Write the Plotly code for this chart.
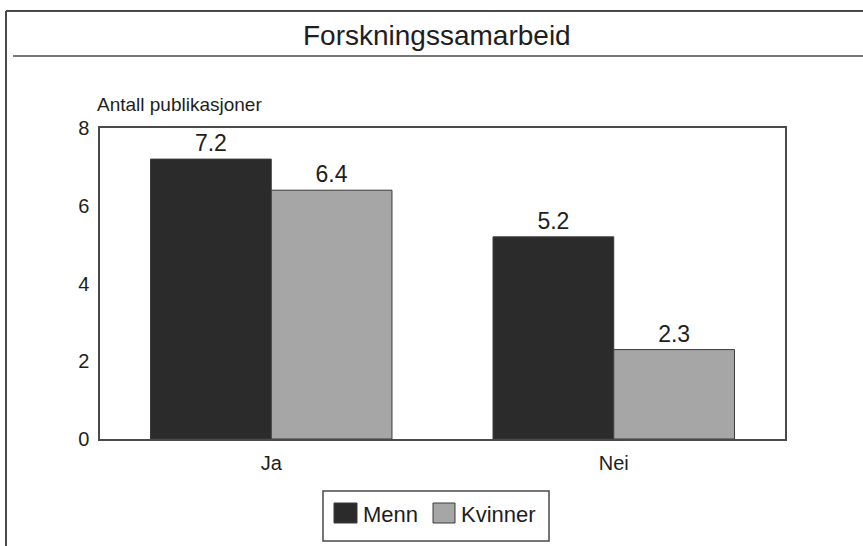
import plotly.graph_objects as go

# Data
categories = ["Ja", "Nei"]
menn = [7.2, 5.2]
kvinner = [6.4, 2.3]
series_names = ["Menn", "Kvinner"]
y_ticks = [0, 2, 4, 6, 8]

title_text = "Forskningssamarbeid"
y_title = "Antall publikasjoner"

# Styling
FONT = "Liberation Sans, Arial, Helvetica, sans-serif"
INK = "#1e1e1e"
LINE = "#4a4a4a"
COL_MENN = "#2b2b2b"
COL_KVINNER = "#a6a6a6"

W, H = 863, 546
ML, MR, MT, MB = 100, 78, 128, 107
PW, PH = W - ML - MR, H - MT - MB


def px_x(px):
    """Pixel x -> paper x."""
    return (px - ML) / PW


def px_y(py):
    """Pixel y (from top) -> paper y."""
    return (H - MB - py) / PH


fig = go.Figure()
for name, vals, col in [(series_names[0], menn, COL_MENN), (series_names[1], kvinner, COL_KVINNER)]:
    fig.add_trace(go.Bar(
        x=categories, y=vals, name=name,
        marker=dict(color=col, line=dict(color="#3a3a3a", width=1)),
        text=[f"{v:.1f}" for v in vals], textposition="outside",
        textfont=dict(family=FONT, size=23, color=INK),
        cliponaxis=False, showlegend=False,
    ))

shapes = []
# page frame: top rule, left rule, rule under the title
shapes.append(dict(type="line", xref="paper", yref="paper", x0=px_x(6), x1=px_x(W),
                   y0=px_y(11), y1=px_y(11), line=dict(color=LINE, width=2)))
shapes.append(dict(type="line", xref="paper", yref="paper", x0=px_x(6), x1=px_x(6),
                   y0=px_y(11), y1=px_y(H), line=dict(color=LINE, width=2)))
shapes.append(dict(type="line", xref="paper", yref="paper", x0=px_x(13), x1=px_x(W),
                   y0=px_y(56), y1=px_y(56), line=dict(color=LINE, width=1.5)))

# legend box with swatches
shapes.append(dict(type="rect", xref="paper", yref="paper", x0=px_x(323), x1=px_x(549),
                   y0=px_y(491), y1=px_y(541), line=dict(color=LINE, width=1.5),
                   fillcolor="rgba(0,0,0,0)"))
swatches = [(334, 357, COL_MENN), (433, 455, COL_KVINNER)]
for x0, x1, col in swatches:
    shapes.append(dict(type="rect", xref="paper", yref="paper", x0=px_x(x0), x1=px_x(x1),
                       y0=px_y(503), y1=px_y(523), line=dict(color="#3a3a3a", width=1),
                       fillcolor=col))

annotations = [
    dict(text=title_text, xref="paper", yref="paper", x=px_x(437), y=px_y(35),
         xanchor="center", yanchor="middle", showarrow=False,
         font=dict(family=FONT, size=28, color=INK)),
    dict(text=y_title, xref="paper", yref="paper", x=px_x(95), y=px_y(104),
         xanchor="left", yanchor="middle", showarrow=False,
         font=dict(family=FONT, size=19, color=INK)),
    dict(text=series_names[0], xref="paper", yref="paper", x=px_x(361), y=px_y(514),
         xanchor="left", yanchor="middle", showarrow=False,
         font=dict(family=FONT, size=22, color=INK)),
    dict(text=series_names[1], xref="paper", yref="paper", x=px_x(459), y=px_y(514),
         xanchor="left", yanchor="middle", showarrow=False,
         font=dict(family=FONT, size=22, color=INK)),
]

fig.update_layout(
    width=W, height=H,
    margin=dict(l=ML, r=MR, t=MT, b=MB, pad=0),
    paper_bgcolor="white", plot_bgcolor="white",
    barmode="group", bargap=0.295, bargroupgap=0,
    shapes=shapes, annotations=annotations,
    showlegend=False,
)
fig.update_xaxes(
    type="category", showgrid=False, zeroline=False, ticks="",
    showline=True, linecolor=LINE, linewidth=1.5, mirror=True,
    tickfont=dict(family=FONT, size=20, color=INK), ticklabelstandoff=5,
)
fig.update_yaxes(
    range=[0, 8], tickvals=y_ticks, showgrid=False, zeroline=False, ticks="",
    showline=True, linecolor=LINE, linewidth=1.5, mirror=True,
    tickfont=dict(family=FONT, size=20, color=INK), ticklabelstandoff=5,
)

fig.write_html("out.html")
